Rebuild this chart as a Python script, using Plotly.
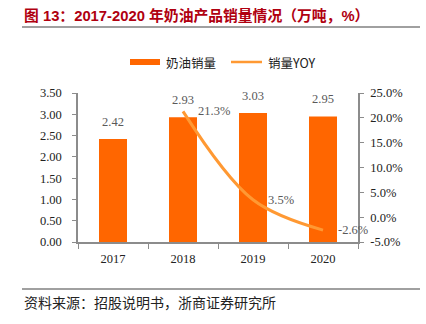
import plotly.graph_objects as go

years = ["2017", "2018", "2019", "2020"]
sales = [2.42, 2.93, 3.03, 2.95]          # 奶油销量（万吨）
yoy_years = ["2018", "2019", "2020"]
yoy = [21.3, 3.5, -2.6]                   # 销量YOY（%）
left_ticks = [0, 0.5, 1.0, 1.5, 2.0, 2.5, 3.0, 3.5]
right_ticks = [-5, 0, 5, 10, 15, 20, 25]

BAR = "#FF6600"
LINE = "#FF9933"
AXIS = "#8C8C8C"
LABEL = "#595959"
SERIF = '"Liberation Serif", "Times New Roman", "Noto Sans CJK SC", serif'
CJK = '"Noto Sans CJK SC", sans-serif'

W, H = 426, 324
L, R, T, B = 78, 68, 93, 82
pw, ph = W - L - R, H - T - B


def px(x):
    return (x - L) / pw


def py(y):
    return (H - B - y) / ph


fig = go.Figure()
fig.add_trace(go.Bar(
    x=years, y=sales, width=0.4, marker=dict(color=BAR, line=dict(width=0)),
    showlegend=False, hoverinfo="x+y",
))
fig.add_trace(go.Scatter(
    x=yoy_years, y=yoy, yaxis="y2", mode="lines",
    line=dict(color=LINE, width=3, shape="spline", smoothing=1.0),
    showlegend=False,
))

shapes = [
    # rule under the title
    dict(type="line", xref="paper", yref="paper", x0=px(22), x1=px(420),
         y0=py(27), y1=py(27), line=dict(color="#808080", width=1.5)),
    # rule above the source note
    dict(type="line", xref="paper", yref="paper", x0=px(22), x1=px(420),
         y0=py(289), y1=py(289), line=dict(color="#808080", width=1.5)),
    # legend swatches
    dict(type="rect", xref="paper", yref="paper", x0=px(130), x1=px(160),
         y0=py(65), y1=py(59), fillcolor=BAR, line=dict(width=0)),
    dict(type="line", xref="paper", yref="paper", x0=px(231), x1=px(262),
         y0=py(62), y1=py(62), line=dict(color=LINE, width=2.5)),
]

annotations = [
    dict(text="图 13：2017-2020 年奶油产品销量情况（万吨，%）", xref="paper", yref="paper",
         x=px(22), y=py(15), xanchor="left", yanchor="middle", showarrow=False,
         font=dict(family='"Liberation Sans", "Noto Sans CJK SC", sans-serif', size=14.8,
                   color="#B00010", weight="bold")),
    dict(text="资料来源：招股说明书，浙商证券研究所", xref="paper", yref="paper",
         x=px(22), y=py(302), xanchor="left", yanchor="middle", showarrow=False,
         font=dict(family=CJK, size=14, color="#222222")),
    dict(text="奶油销量", xref="paper", yref="paper", x=px(164), y=py(62),
         xanchor="left", yanchor="middle", showarrow=False,
         font=dict(family=CJK, size=12.5, color="#222222")),
    dict(text="销量YOY", xref="paper", yref="paper", x=px(266), y=py(62),
         xanchor="left", yanchor="middle", showarrow=False,
         font=dict(family=CJK, size=12.5, color="#222222")),
]

# value labels above the bars (category axis positions are indices)
for yr, v in zip(years, sales):
    annotations.append(dict(
        text=f"{v:.2f}", x=years.index(yr), y=v, xref="x", yref="y", xanchor="center",
        yanchor="bottom", yshift=8, showarrow=False,
        font=dict(family=SERIF, size=12.5, color=LABEL)))

# growth labels to the right of the line points
for yr, v in zip(yoy_years, yoy):
    annotations.append(dict(
        text=f"{v:.1f}%", x=years.index(yr), y=v, xref="x", yref="y2", xanchor="left",
        yanchor="middle", xshift=13, showarrow=False,
        font=dict(family=SERIF, size=12.5, color=LABEL)))

fig.update_layout(
    width=W, height=H, margin=dict(l=L, r=R, t=T, b=B, pad=0),
    paper_bgcolor="white", plot_bgcolor="white",
    shapes=shapes, annotations=annotations, showlegend=False,
    xaxis=dict(type="category", categoryorder="array", categoryarray=years,
               range=[-0.5, len(years) - 0.5], showgrid=False, showline=True,
               linecolor=AXIS, linewidth=1.5,
               ticks="outside", tickson="boundaries", ticklen=5, tickcolor=AXIS,
               ticklabelstandoff=4,
               tickfont=dict(family=SERIF, size=12.5, color="#222222")),
    yaxis=dict(range=[0, 3.5], tickvals=left_ticks, tickformat=".2f", showgrid=False,
               zeroline=False, showline=True, linecolor=AXIS, linewidth=1.5,
               ticks="outside", ticklen=4, tickcolor=AXIS, ticklabelstandoff=8,
               tickfont=dict(family=SERIF, size=12.5, color="#222222")),
    yaxis2=dict(range=[-5, 25], tickvals=right_ticks, ticktext=[f"{v:.1f}%" for v in right_ticks],
                overlaying="y", side="right", showgrid=False, zeroline=False,
                showline=True, linecolor=AXIS, linewidth=1.5,
                ticks="outside", ticklen=4, tickcolor=AXIS, ticklabelstandoff=4,
                tickfont=dict(family=SERIF, size=12.5, color="#222222")),
)

fig.write_html("out.html")
